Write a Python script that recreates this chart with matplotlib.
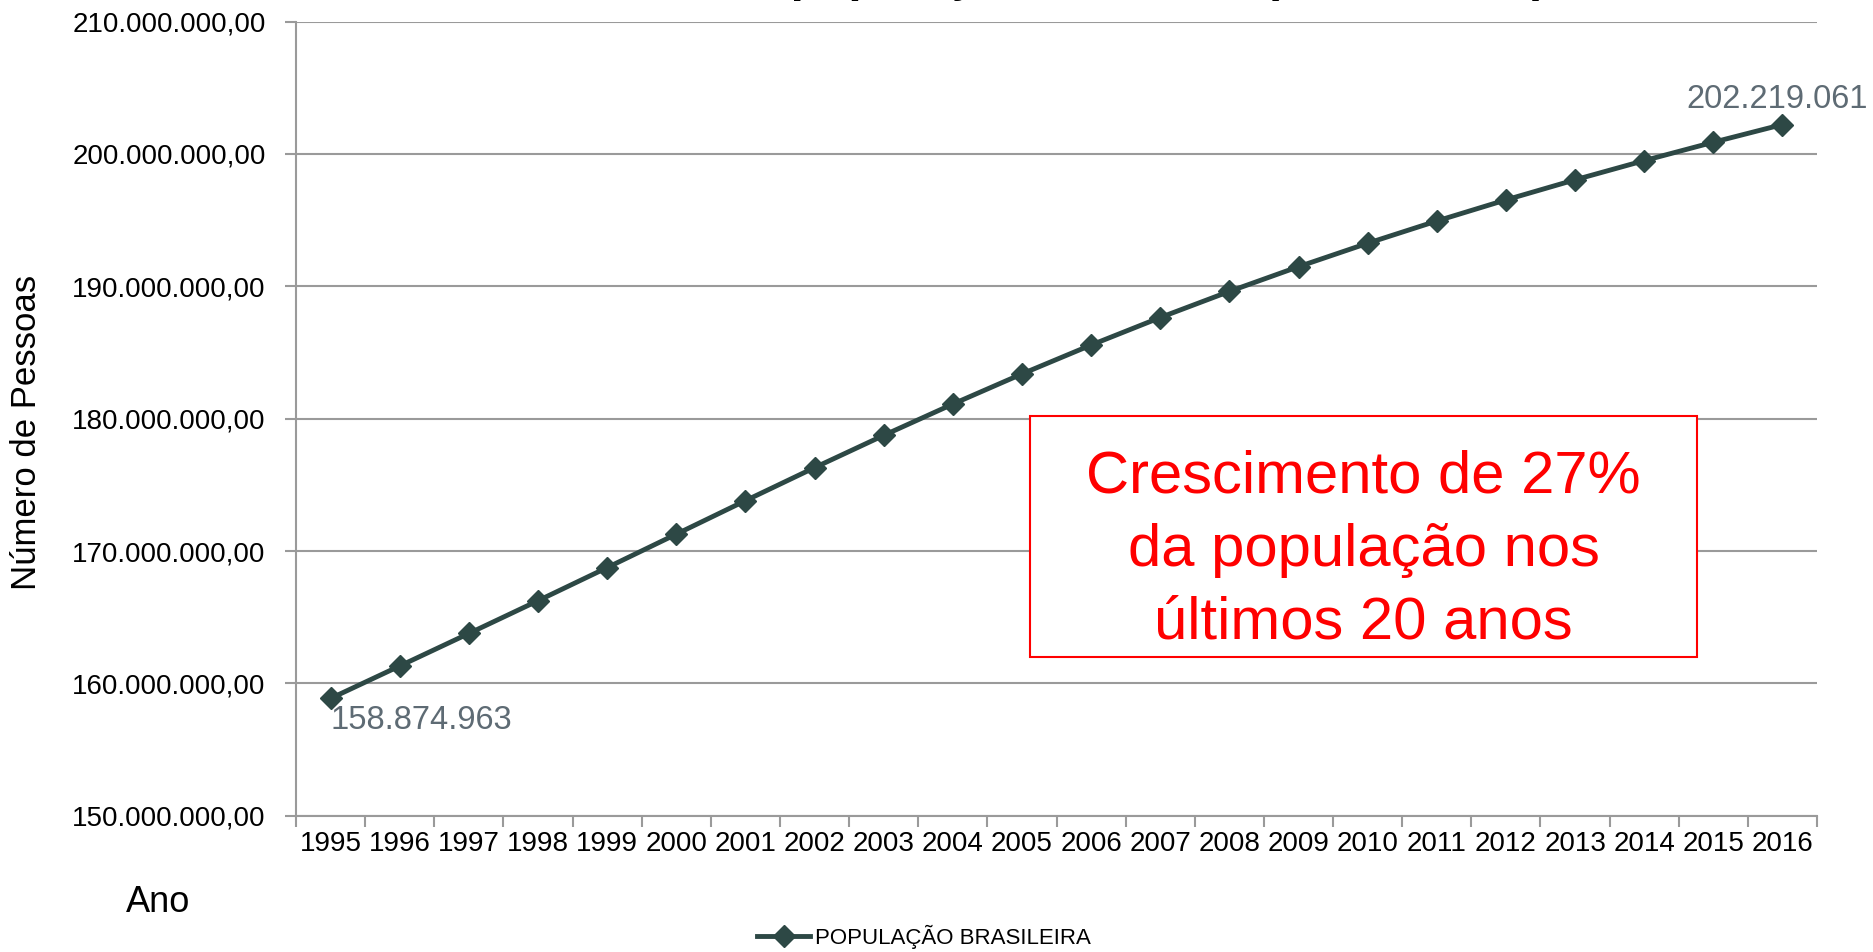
import matplotlib.pyplot as plt
from matplotlib.patches import Rectangle
from matplotlib.ticker import FuncFormatter, MultipleLocator

# Population (Brazil, 1995-2016)
anos = [str(a) for a in range(1995, 2017)]
populacao = [158874963, 161323169, 163779827, 166252088, 168753552, 171279882,
             173808010, 176303919, 178741412, 181105601, 183383216, 185564212,
             187641714, 189612814, 191480630, 193252604, 194932685, 196526293,
             198043320, 199492433, 200881685, 202219061]

plt.rcParams["font.family"] = ["Liberation Sans", "DejaVu Sans"]

line_color = "#2D4845"
label_color = "#5E6B74"
grid_color = "#9A9A9A"

fig = plt.figure(figsize=(18.74, 9.52), dpi=100)
ax = fig.add_axes([0.158, 0.143, 0.8116, 0.8344])

x = list(range(len(anos)))
ax.plot(x, populacao, color=line_color, linewidth=3.5, marker="D",
        markersize=11, label="POPULAÇÃO BRASILEIRA")

# data labels on first and last point
ax.annotate(f"{populacao[0]:,}".replace(",", "."), (x[0], populacao[0]),
            xytext=(0, -5), textcoords="offset points", ha="left", va="top",
            fontsize=23.5, color=label_color)
ax.annotate(f"{populacao[-1]:,}".replace(",", "."), (x[-1], populacao[-1]),
            xytext=(-4, 7), textcoords="offset points", ha="center", va="bottom",
            fontsize=23.5, color=label_color)

# axes
ax.set_xlim(-0.5, len(anos) - 0.5)
ax.set_ylim(150e6, 210e6)
ax.yaxis.set_major_locator(MultipleLocator(10e6))
ax.yaxis.set_major_formatter(FuncFormatter(
    lambda v, p: f"{v:,.2f}".replace(",", "X").replace(".", ",").replace("X", ".")))

ax.set_xticks([i - 0.5 for i in range(len(anos) + 1)])
ax.set_xticklabels([])
ax.set_xticks(x, minor=True)
ax.set_xticklabels(anos, minor=True)
ax.tick_params(axis="x", which="major", length=8, width=1.5, color=grid_color)
ax.tick_params(axis="x", which="minor", length=0, pad=11, labelsize=20)
ax.tick_params(axis="y", length=8, width=1.5, color=grid_color, labelsize=20, pad=14)

ax.grid(axis="y", color=grid_color, linewidth=1.5)
ax.set_axisbelow(True)
for s in ["top", "right"]:
    ax.spines[s].set_visible(False)
for s in ["left", "bottom"]:
    ax.spines[s].set_color(grid_color)
    ax.spines[s].set_linewidth(1.5)

fig.text(0.014, 0.5456, "Número de Pessoas", fontsize=25, rotation=90,
         ha="center", va="center")
fig.text(0.067, 0.052, "Ano", fontsize=26, ha="left", va="center")

# title, cut off at the top edge like the source
fig.text(0.826, 1.009, "Crescimento da população brasileira (1995 - 2016)",
         fontsize=34, fontweight="bold", ha="right", va="baseline")

# highlight box
ax.add_patch(Rectangle((10.12, 162.0e6), 9.64, 18.2e6, facecolor="white",
                       edgecolor="red", linewidth=1.5, zorder=3))
ax.text(14.94, 170.05e6, "Crescimento de 27%\nda população nos\núltimos 20 anos",
        fontsize=43, color="red", ha="center", va="center", linespacing=1.42,
        zorder=4)

fig.legend(loc="center", bbox_to_anchor=(0.493, 0.016), frameon=False,
           prop={"size": 16}, handlelength=2.4, handletextpad=0.2)

fig.savefig("out.png", dpi=100)
